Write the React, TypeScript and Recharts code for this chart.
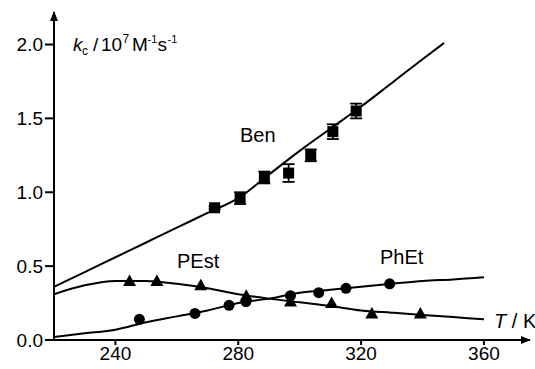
import React from "react";
import {
  ComposedChart,
  Line,
  Scatter,
  ErrorBar,
  XAxis,
  YAxis,
  ReferenceDot,
} from "recharts";

// temperatures (K) and rate constants (10^7 M^-1 s^-1)
const benT = [272.3, 280.6, 288.5, 296.4, 303.6, 310.8, 318.4];
const benK = [0.895, 0.96, 1.1, 1.13, 1.25, 1.41, 1.55];
const benErr = [0.01, 0.04, 0.04, 0.06, 0.04, 0.05, 0.05];

const pestT = [244.6, 253.5, 267.8, 282.6, 297.0, 310.4, 323.5, 339.3];
const pestK = [0.4, 0.4, 0.37, 0.3, 0.26, 0.25, 0.18, 0.18];

const phetT = [247.8, 265.9, 277.0, 282.5, 297.0, 306.2, 315.1, 329.3];
const phetK = [0.14, 0.18, 0.235, 0.26, 0.3, 0.32, 0.35, 0.38];

// fitted curves
const benFitT = [220, 230, 240, 250, 260, 270, 280, 290, 300, 310, 320, 330, 340, 347];
const benFitK = [0.36, 0.46, 0.56, 0.66, 0.76, 0.86, 0.96, 1.12, 1.28, 1.43, 1.58, 1.74, 1.9, 2.01];

const fitT = [220, 230, 240, 250, 260, 270, 280, 290, 300, 310, 320, 330, 340, 350, 360];
const pestFitK = [0.31, 0.37, 0.4, 0.4, 0.38, 0.35, 0.31, 0.28, 0.255, 0.23, 0.2, 0.185, 0.17, 0.155, 0.14];
const phetFitK = [0.02, 0.045, 0.07, 0.12, 0.16, 0.2, 0.25, 0.28, 0.32, 0.34, 0.36, 0.38, 0.4, 0.41, 0.425];

const xTicks = [240, 280, 320, 360];
const yTicks = [0, 0.5, 1.0, 1.5, 2.0];

const FONT = '"Liberation Sans", Arial, sans-serif';

const toPoints = (ts: number[], ks: number[], errs?: number[]) =>
  ts.map((T, i) => ({ T, k: ks[i], err: errs ? errs[i] : 0 }));

const benData = toPoints(benT, benK, benErr);
const pestData = toPoints(pestT, pestK);
const phetData = toPoints(phetT, phetK);
const benFit = toPoints(benFitT, benFitK);
const pestFit = toPoints(fitT, pestFitK);
const phetFit = toPoints(fitT, phetFitK);

const Square = (p: any) => (
  <rect x={p.cx - 5.5} y={p.cy - 5.5} width={11} height={11} fill="#000" />
);
const Triangle = (p: any) => (
  <polygon
    points={`${p.cx},${p.cy - 6.5} ${p.cx - 6.5},${p.cy + 5} ${p.cx + 6.5},${p.cy + 5}`}
    fill="#000"
  />
);
const Dot = (p: any) => <circle cx={p.cx} cy={p.cy} r={5.5} fill="#000" />;

const ArrowRight = (p: any) => (
  <polygon
    points={`${p.cx + 1},${p.cy} ${p.cx - 9},${p.cy - 4} ${p.cx - 9},${p.cy + 4}`}
    fill="#000"
  />
);
const ArrowUp = (p: any) => (
  <polygon
    points={`${p.cx},${p.cy - 1} ${p.cx - 4},${p.cy + 9} ${p.cx + 4},${p.cy + 9}`}
    fill="#000"
  />
);

const tickStyle = { fill: "#000", fontSize: 19, fontFamily: FONT };
const axisStroke = { stroke: "#000", strokeWidth: 2 };

export default function App() {
  return (
    <div
      style={{
        position: "absolute",
        left: 0,
        top: 0,
        width: 535,
        height: 369,
        background: "#fff",
        fontFamily: FONT,
      }}
    >
      <ComposedChart
        width={535}
        height={369}
        margin={{ top: 12, right: 5, left: 4, bottom: 0 }}
      >
        <XAxis
          type="number"
          dataKey="T"
          domain={[220, 375]}
          ticks={xTicks}
          allowDataOverflow
          axisLine={axisStroke}
          tickLine={axisStroke}
          tickSize={5}
          tickMargin={2}
          height={29}
          tick={tickStyle}
        />
        <YAxis
          type="number"
          domain={[0, 2.22]}
          ticks={yTicks}
          allowDataOverflow
          width={50}
          axisLine={axisStroke}
          tickLine={axisStroke}
          tickSize={9}
          tickMargin={2}
          tick={tickStyle}
          tickFormatter={(v: number) => v.toFixed(1)}
        />
        <Line data={benFit} dataKey="k" type="monotone" stroke="#000" strokeWidth={2} dot={false} isAnimationActive={false} />
        <Line data={pestFit} dataKey="k" type="monotone" stroke="#000" strokeWidth={2} dot={false} isAnimationActive={false} />
        <Line data={phetFit} dataKey="k" type="monotone" stroke="#000" strokeWidth={2} dot={false} isAnimationActive={false} />
        <Scatter data={benData} dataKey="k" shape={Square} isAnimationActive={false}>
          <ErrorBar dataKey="err" direction="y" width={6} stroke="#000" strokeWidth={1.8} isAnimationActive={false} />
        </Scatter>
        <Scatter data={pestData} dataKey="k" shape={Triangle} isAnimationActive={false} />
        <Scatter data={phetData} dataKey="k" shape={Dot} isAnimationActive={false} />
        <ReferenceDot x={375} y={0} shape={ArrowRight} />
        <ReferenceDot x={220} y={2.22} shape={ArrowUp} />
      </ComposedChart>
      <svg
        width={535}
        height={369}
        style={{ position: "absolute", left: 0, top: 0, pointerEvents: "none" }}
        fontFamily={FONT}
      >
        <text y={51} fontSize={19}>
          <tspan x={73} fontStyle="italic">k</tspan>
          <tspan x={82} y={55} fontSize={12}>c</tspan>
          <tspan x={93} y={51}>/</tspan>
          <tspan x={101}>10</tspan>
          <tspan x={122.5} y={43} fontSize={12}>7</tspan>
          <tspan x={132} y={51}>M</tspan>
          <tspan x={147.5} y={43} fontSize={11}>-1</tspan>
          <tspan x={157.5} y={51}>s</tspan>
          <tspan x={167.5} y={43} fontSize={11}>-1</tspan>
        </text>
        <text x={240} y={142} fontSize={20}>Ben</text>
        <text x={177} y={268} fontSize={20}>PEst</text>
        <text x={380} y={264} fontSize={20}>PhEt</text>
        <text y={328} fontSize={20}>
          <tspan x={494} fontStyle="italic">T</tspan>
          <tspan> / K</tspan>
        </text>
      </svg>
    </div>
  );
}
